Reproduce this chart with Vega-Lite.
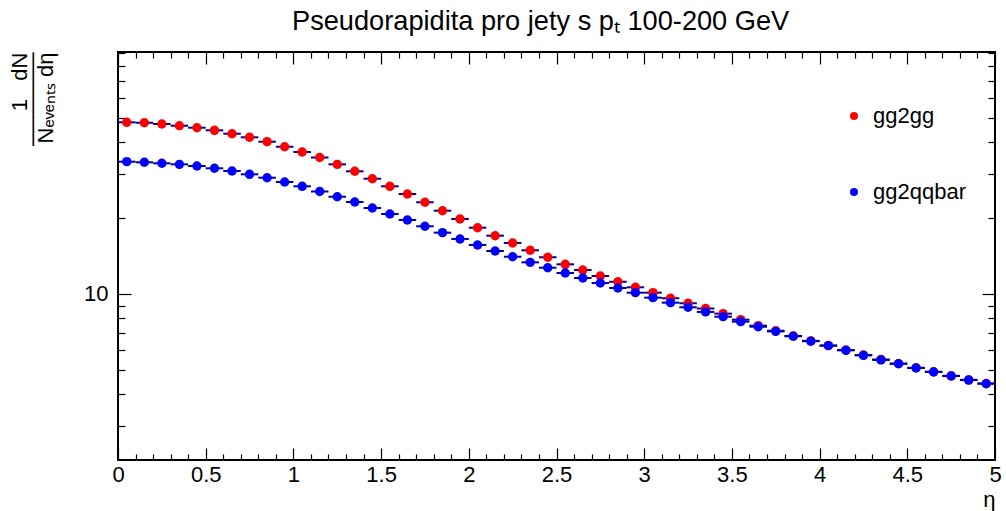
{
  "$schema": "https://vega.github.io/schema/vega-lite/v6.json",
  "width": 877,
  "height": 408,
  "autosize": {"type": "none"},
  "padding": {"left": 118, "top": 52, "right": 11, "bottom": 51},
  "background": "white",
  "config": {
    "font": "Liberation Sans",
    "view": {"stroke": "black", "strokeWidth": 2},
    "axis": {"grid": false, "domain": false, "tickColor": "black", "tickWidth": 1.2, "labelColor": "black", "titleColor": "black", "labelFont": "Liberation Sans", "titleFont": "Liberation Sans", "titleFontWeight": "normal"}
  },
  "title": {"text": "Pseudorapidita pro jety s p\u209c 100-200 GeV", "anchor": "start", "frame": "group", "dx": 174, "fontSize": 27.2, "fontWeight": "normal", "font": "Liberation Sans", "color": "black", "offset": 15},
  "data": {"values": [
    {"s":"gg2gg","eta":0.05,"lo":0.0,"hi":0.1,"v":47.89},
    {"s":"gg2gg","eta":0.15,"lo":0.1,"hi":0.2,"v":47.71},
    {"s":"gg2gg","eta":0.25,"lo":0.2,"hi":0.3,"v":47.15},
    {"s":"gg2gg","eta":0.35,"lo":0.3,"hi":0.4,"v":46.43},
    {"s":"gg2gg","eta":0.45,"lo":0.4,"hi":0.5,"v":45.59},
    {"s":"gg2gg","eta":0.55,"lo":0.5,"hi":0.6,"v":44.52},
    {"s":"gg2gg","eta":0.65,"lo":0.6,"hi":0.7,"v":43.16},
    {"s":"gg2gg","eta":0.75,"lo":0.7,"hi":0.8,"v":41.77},
    {"s":"gg2gg","eta":0.85,"lo":0.8,"hi":0.9,"v":40.13},
    {"s":"gg2gg","eta":0.95,"lo":0.9,"hi":1.0,"v":38.33},
    {"s":"gg2gg","eta":1.05,"lo":1.0,"hi":1.1,"v":36.52},
    {"s":"gg2gg","eta":1.15,"lo":1.1,"hi":1.2,"v":34.73},
    {"s":"gg2gg","eta":1.25,"lo":1.2,"hi":1.3,"v":32.64},
    {"s":"gg2gg","eta":1.35,"lo":1.3,"hi":1.4,"v":30.63},
    {"s":"gg2gg","eta":1.45,"lo":1.4,"hi":1.5,"v":28.63},
    {"s":"gg2gg","eta":1.55,"lo":1.5,"hi":1.6,"v":26.71},
    {"s":"gg2gg","eta":1.65,"lo":1.6,"hi":1.7,"v":24.90},
    {"s":"gg2gg","eta":1.75,"lo":1.7,"hi":1.8,"v":23.09},
    {"s":"gg2gg","eta":1.85,"lo":1.8,"hi":1.9,"v":21.38},
    {"s":"gg2gg","eta":1.95,"lo":1.9,"hi":2.0,"v":19.83},
    {"s":"gg2gg","eta":2.05,"lo":2.0,"hi":2.1,"v":18.31},
    {"s":"gg2gg","eta":2.15,"lo":2.1,"hi":2.2,"v":17.02},
    {"s":"gg2gg","eta":2.25,"lo":2.2,"hi":2.3,"v":15.93},
    {"s":"gg2gg","eta":2.35,"lo":2.3,"hi":2.4,"v":14.90},
    {"s":"gg2gg","eta":2.45,"lo":2.4,"hi":2.5,"v":13.98},
    {"s":"gg2gg","eta":2.55,"lo":2.5,"hi":2.6,"v":13.11},
    {"s":"gg2gg","eta":2.65,"lo":2.6,"hi":2.7,"v":12.45},
    {"s":"gg2gg","eta":2.75,"lo":2.7,"hi":2.8,"v":11.78},
    {"s":"gg2gg","eta":2.85,"lo":2.8,"hi":2.9,"v":11.18},
    {"s":"gg2gg","eta":2.95,"lo":2.9,"hi":3.0,"v":10.63},
    {"s":"gg2gg","eta":3.05,"lo":3.0,"hi":3.1,"v":10.12},
    {"s":"gg2gg","eta":3.15,"lo":3.1,"hi":3.2,"v":9.62},
    {"s":"gg2gg","eta":3.25,"lo":3.2,"hi":3.3,"v":9.19},
    {"s":"gg2gg","eta":3.35,"lo":3.3,"hi":3.4,"v":8.76},
    {"s":"gg2gg","eta":3.45,"lo":3.4,"hi":3.5,"v":8.36},
    {"s":"gg2gg","eta":3.55,"lo":3.5,"hi":3.6,"v":7.91},
    {"s":"gg2gg","eta":3.65,"lo":3.6,"hi":3.7,"v":7.49},
    {"s":"gg2gg","eta":3.75,"lo":3.7,"hi":3.8,"v":7.15},
    {"s":"gg2gg","eta":3.85,"lo":3.8,"hi":3.9,"v":6.82},
    {"s":"gg2gg","eta":3.95,"lo":3.9,"hi":4.0,"v":6.52},
    {"s":"gg2gg","eta":4.05,"lo":4.0,"hi":4.1,"v":6.25},
    {"s":"gg2gg","eta":4.15,"lo":4.1,"hi":4.2,"v":6.00},
    {"s":"gg2gg","eta":4.25,"lo":4.2,"hi":4.3,"v":5.73},
    {"s":"gg2gg","eta":4.35,"lo":4.3,"hi":4.4,"v":5.50},
    {"s":"gg2gg","eta":4.45,"lo":4.4,"hi":4.5,"v":5.30},
    {"s":"gg2gg","eta":4.55,"lo":4.5,"hi":4.6,"v":5.10},
    {"s":"gg2gg","eta":4.65,"lo":4.6,"hi":4.7,"v":4.92},
    {"s":"gg2gg","eta":4.75,"lo":4.7,"hi":4.8,"v":4.74},
    {"s":"gg2gg","eta":4.85,"lo":4.8,"hi":4.9,"v":4.57},
    {"s":"gg2gg","eta":4.95,"lo":4.9,"hi":5.0,"v":4.42},
    {"s":"gg2qqbar","eta":0.05,"lo":0.0,"hi":0.1,"v":33.44},
    {"s":"gg2qqbar","eta":0.15,"lo":0.1,"hi":0.2,"v":33.25},
    {"s":"gg2qqbar","eta":0.25,"lo":0.2,"hi":0.3,"v":32.95},
    {"s":"gg2qqbar","eta":0.35,"lo":0.3,"hi":0.4,"v":32.64},
    {"s":"gg2qqbar","eta":0.45,"lo":0.4,"hi":0.5,"v":32.14},
    {"s":"gg2qqbar","eta":0.55,"lo":0.5,"hi":0.6,"v":31.48},
    {"s":"gg2qqbar","eta":0.65,"lo":0.6,"hi":0.7,"v":30.71},
    {"s":"gg2qqbar","eta":0.75,"lo":0.7,"hi":0.8,"v":29.80},
    {"s":"gg2qqbar","eta":0.85,"lo":0.8,"hi":0.9,"v":28.89},
    {"s":"gg2qqbar","eta":0.95,"lo":0.9,"hi":1.0,"v":27.78},
    {"s":"gg2qqbar","eta":1.05,"lo":1.0,"hi":1.1,"v":26.71},
    {"s":"gg2qqbar","eta":1.15,"lo":1.1,"hi":1.2,"v":25.47},
    {"s":"gg2qqbar","eta":1.25,"lo":1.2,"hi":1.3,"v":24.29},
    {"s":"gg2qqbar","eta":1.35,"lo":1.3,"hi":1.4,"v":23.15},
    {"s":"gg2qqbar","eta":1.45,"lo":1.4,"hi":1.5,"v":21.91},
    {"s":"gg2qqbar","eta":1.55,"lo":1.5,"hi":1.6,"v":20.75},
    {"s":"gg2qqbar","eta":1.65,"lo":1.6,"hi":1.7,"v":19.65},
    {"s":"gg2qqbar","eta":1.75,"lo":1.7,"hi":1.8,"v":18.55},
    {"s":"gg2qqbar","eta":1.85,"lo":1.8,"hi":1.9,"v":17.50},
    {"s":"gg2qqbar","eta":1.95,"lo":1.9,"hi":2.0,"v":16.52},
    {"s":"gg2qqbar","eta":2.05,"lo":2.0,"hi":2.1,"v":15.64},
    {"s":"gg2qqbar","eta":2.15,"lo":2.1,"hi":2.2,"v":14.80},
    {"s":"gg2qqbar","eta":2.25,"lo":2.2,"hi":2.3,"v":14.05},
    {"s":"gg2qqbar","eta":2.35,"lo":2.3,"hi":2.4,"v":13.35},
    {"s":"gg2qqbar","eta":2.45,"lo":2.4,"hi":2.5,"v":12.71},
    {"s":"gg2qqbar","eta":2.55,"lo":2.5,"hi":2.6,"v":12.11},
    {"s":"gg2qqbar","eta":2.65,"lo":2.6,"hi":2.7,"v":11.57},
    {"s":"gg2qqbar","eta":2.75,"lo":2.7,"hi":2.8,"v":11.05},
    {"s":"gg2qqbar","eta":2.85,"lo":2.8,"hi":2.9,"v":10.56},
    {"s":"gg2qqbar","eta":2.95,"lo":2.9,"hi":3.0,"v":10.12},
    {"s":"gg2qqbar","eta":3.05,"lo":3.0,"hi":3.1,"v":9.67},
    {"s":"gg2qqbar","eta":3.15,"lo":3.1,"hi":3.2,"v":9.24},
    {"s":"gg2qqbar","eta":3.25,"lo":3.2,"hi":3.3,"v":8.86},
    {"s":"gg2qqbar","eta":3.35,"lo":3.3,"hi":3.4,"v":8.49},
    {"s":"gg2qqbar","eta":3.45,"lo":3.4,"hi":3.5,"v":8.13},
    {"s":"gg2qqbar","eta":3.55,"lo":3.5,"hi":3.6,"v":7.77},
    {"s":"gg2qqbar","eta":3.65,"lo":3.6,"hi":3.7,"v":7.42},
    {"s":"gg2qqbar","eta":3.75,"lo":3.7,"hi":3.8,"v":7.11},
    {"s":"gg2qqbar","eta":3.85,"lo":3.8,"hi":3.9,"v":6.80},
    {"s":"gg2qqbar","eta":3.95,"lo":3.9,"hi":4.0,"v":6.50},
    {"s":"gg2qqbar","eta":4.05,"lo":4.0,"hi":4.1,"v":6.24},
    {"s":"gg2qqbar","eta":4.15,"lo":4.1,"hi":4.2,"v":5.98},
    {"s":"gg2qqbar","eta":4.25,"lo":4.2,"hi":4.3,"v":5.71},
    {"s":"gg2qqbar","eta":4.35,"lo":4.3,"hi":4.4,"v":5.48},
    {"s":"gg2qqbar","eta":4.45,"lo":4.4,"hi":4.5,"v":5.29},
    {"s":"gg2qqbar","eta":4.55,"lo":4.5,"hi":4.6,"v":5.09},
    {"s":"gg2qqbar","eta":4.65,"lo":4.6,"hi":4.7,"v":4.91},
    {"s":"gg2qqbar","eta":4.75,"lo":4.7,"hi":4.8,"v":4.73},
    {"s":"gg2qqbar","eta":4.85,"lo":4.8,"hi":4.9,"v":4.56},
    {"s":"gg2qqbar","eta":4.95,"lo":4.9,"hi":5.0,"v":4.41}
  ]},
  "resolve": {"axis": {"x": "independent", "y": "independent"}},
  "layer": [
    {
      "mark": {"type": "rule", "color": "#000099", "strokeWidth": 2},
      "encoding": {
        "x": {"field": "lo", "type": "quantitative", "scale": {"domain": [0, 5], "nice": false, "zero": false},
          "axis": {"orient": "bottom", "values": [0, 0.5, 1, 1.5, 2, 2.5, 3, 3.5, 4, 4.5, 5], "format": "~g", "tickSize": -12, "labelPadding": 16, "labelFontSize": 22, "labelFlush": false, "labelOverlap": false, "title": "\u03b7", "titleFontSize": 22, "titleAnchor": "end", "titlePadding": 4}},
        "x2": {"field": "hi"},
        "y": {"field": "v", "type": "quantitative", "scale": {"type": "log", "domain": [2.199, 90.96], "nice": false},
          "axis": {"orient": "left", "values": [10], "format": "~g", "tickSize": -13, "labelPadding": 23, "labelFontSize": 22, "labelFlush": false,
            "title": ["1\u00a0\u00a0\u00a0dN", "\u2500\u2500\u2500\u2500\u2500\u2500", "N\u2091\u1d65\u2091\u2099\u209c\u209b\u00a0d\u03b7"], "titleFontSize": 22, "titleAnchor": "end", "titlePadding": 26, "titleLineHeight": 13}}
      }
    },
    {
      "mark": {"type": "point", "filled": true, "opacity": 1, "size": 88},
      "encoding": {
        "x": {"field": "eta", "type": "quantitative", "axis": {"orient": "top", "values": [0, 0.5, 1, 1.5, 2, 2.5, 3, 3.5, 4, 4.5, 5], "tickSize": -12, "labels": false, "title": null}},
        "y": {"field": "v", "type": "quantitative", "axis": {"orient": "right", "values": [10], "tickSize": -13, "labels": false, "title": null}},
        "color": {"field": "s", "type": "nominal", "scale": {"domain": ["gg2gg", "gg2qqbar"], "range": ["#ff0000", "#0000ff"]},
          "legend": {"orient": "none", "legendX": 725, "legendY": 53, "title": null, "symbolType": "circle", "symbolSize": 64, "symbolFillOpacity": 1, "symbolStrokeWidth": 0, "labelFontSize": 22, "labelFont": "Liberation Sans", "labelColor": "black", "labelOffset": 8, "rowPadding": 54, "padding": 0}}
      }
    },
    {
      "mark": {"type": "point", "opacity": 0},
      "encoding": {
        "x": {"field": "eta", "type": "quantitative", "axis": {"orient": "bottom", "values": [0.1,0.2,0.3,0.4,0.6,0.7,0.8,0.9,1.1,1.2,1.3,1.4,1.6,1.7,1.8,1.9,2.1,2.2,2.3,2.4,2.6,2.7,2.8,2.9,3.1,3.2,3.3,3.4,3.6,3.7,3.8,3.9,4.1,4.2,4.3,4.4,4.6,4.7,4.8,4.9], "tickSize": -6, "labels": false, "title": null}},
        "y": {"field": "v", "type": "quantitative", "axis": {"orient": "left", "values": [3,4,5,6,7,8,9,20,30,40,50,60,70,80,90], "tickSize": -7, "labels": false, "title": null}}
      }
    },
    {
      "mark": {"type": "point", "opacity": 0},
      "encoding": {
        "x": {"field": "eta", "type": "quantitative", "axis": {"orient": "top", "values": [0.1,0.2,0.3,0.4,0.6,0.7,0.8,0.9,1.1,1.2,1.3,1.4,1.6,1.7,1.8,1.9,2.1,2.2,2.3,2.4,2.6,2.7,2.8,2.9,3.1,3.2,3.3,3.4,3.6,3.7,3.8,3.9,4.1,4.2,4.3,4.4,4.6,4.7,4.8,4.9], "tickSize": -6, "labels": false, "title": null}},
        "y": {"field": "v", "type": "quantitative", "axis": {"orient": "right", "values": [3,4,5,6,7,8,9,20,30,40,50,60,70,80,90], "tickSize": -7, "labels": false, "title": null}}
      }
    }
  ]
}
